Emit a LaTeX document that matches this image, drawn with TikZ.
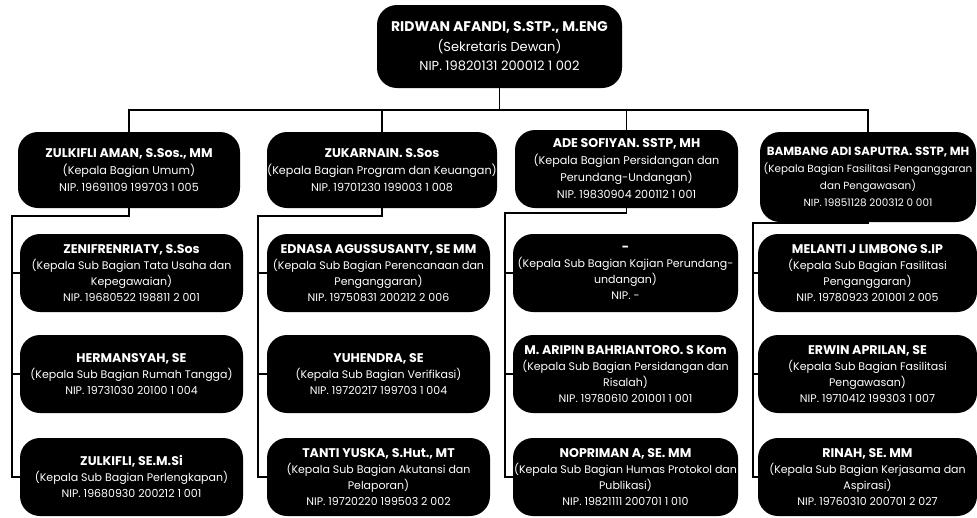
\documentclass[tikz,border=0pt]{standalone}
\usepackage{fontspec}
\setmainfont{Poppins}
\usetikzlibrary{positioning}

\newcommand\nama[2][12.6]{{\fontsize{#1}{16}\selectfont\bfseries #2}}

\tikzset{
  pegawai/.style={fill=black, text=white, rounded corners=20pt, align=center,
    inner sep=0pt, font=\fontsize{11}{16}\selectfont},
  topbox/.style={pegawai, minimum width=245pt, minimum height=83pt,
    font=\fontsize{13}{19.5}\selectfont},
  headbox/.style={pegawai, font=\fontsize{11.2}{17}\selectfont},
  subbox/.style={pegawai, minimum width=223pt, minimum height=78pt},
  garis/.style={draw=black, line width=1.2pt}
}

\begin{document}
\begin{tikzpicture}[x=1pt,y=-1pt]
\useasboundingbox (0,0) rectangle (977,517);

% sekretaris
\node[topbox] (sekwan) at (499.5,46.5) {\nama[14]{RIDWAN AFANDI, S.STP., M.ENG}\\(Sekretaris Dewan)\\NIP. 19820131 200012 1 002};

% kepala bagian
\node[headbox, minimum width=222pt, minimum height=76pt] (umum) at (129,170) {\nama{ZULKIFLI AMAN, S.Sos., MM}\\(Kepala Bagian Umum)\\NIP. 19691109 199703 1 005};
\node[headbox, minimum width=230pt, minimum height=76pt] (program) at (382,170) {\nama{ZUKARNAIN. S.Sos}\\(Kepala Bagian Program dan Keuangan)\\NIP. 19701230 199003 1 008};
\node[headbox, minimum width=223pt, minimum height=78pt] (sidang) at (626.5,169) {\nama{ADE SOFIYAN. SSTP, MH}\\(Kepala Bagian Persidangan dan\\Perundang-Undangan)\\NIP. 19830904 200112 1 001};
\node[headbox, minimum width=216pt, minimum height=90pt, font=\fontsize{10.4}{17}\selectfont] (fasilitasi) at (868,177) {\nama[11.8]{BAMBANG ADI SAPUTRA. SSTP, MH}\\(Kepala Bagian Fasilitasi Penganggaran\\dan Pengawasan)\\NIP. 19851128 200312 0 001};

% sub bagian umum
\node[subbox] (umumA) at (131.5,273) {\nama{ZENIFRENRIATY, S.Sos}\\(Kepala Sub Bagian Tata Usaha dan\\Kepegawaian)\\NIP. 19680522 198811 2 001};
\node[subbox] (umumB) at (131.5,374) {\nama{HERMANSYAH, SE}\\(Kepala Sub Bagian Rumah Tangga)\\NIP. 19731030 20100 1 004};
\node[subbox] (umumC) at (131.5,477) {\nama{ZULKIFLI, SE.M.Si}\\(Kepala Sub Bagian Perlengkapan)\\NIP. 19680930 200212 1 001};

% sub bagian program
\node[subbox] (programA) at (378.5,273) {\nama{EDNASA AGUSSUSANTY, SE MM}\\(Kepala Sub Bagian Perencanaan dan\\Penganggaran)\\NIP. 19750831 200212 2 006};
\node[subbox] (programB) at (378.5,374) {\nama{YUHENDRA, SE}\\(Kepala Sub Bagian Verifikasi)\\NIP. 19720217 199703 1 004};
\node[subbox] (programC) at (378.5,477) {\nama{TANTI YUSKA, S.Hut., MT}\\(Kepala Sub Bagian Akutansi dan\\Pelaporan)\\NIP. 19720220 199503 2 002};

% sub bagian persidangan
\node[subbox, minimum width=225pt] (sidangA) at (625.5,273) {\nama{-}\\(Kepala Sub Bagian Kajian Perundang-\\undangan)\\NIP. -};
\node[subbox, minimum width=225pt] (sidangB) at (625.5,374) {\nama{M. ARIPIN BAHRIANTORO. S Kom}\\(Kepala Sub Bagian Persidangan dan\\Risalah)\\NIP. 19780610 201001 1 001};
\node[subbox, minimum width=225pt] (sidangC) at (625.5,477) {\nama{NOPRIMAN A, SE. MM}\\(Kepala Sub Bagian Humas Protokol dan\\Publikasi)\\NIP. 19821111 200701 1 010};

% sub bagian fasilitasi
\node[subbox, minimum width=219pt] (fasilitasiA) at (867.5,273) {\nama{MELANTI J LIMBONG S.IP}\\(Kepala Sub Bagian Fasilitasi\\Penganggaran)\\NIP. 19780923 201001 2 005};
\node[subbox, minimum width=219pt] (fasilitasiB) at (867.5,374) {\nama{ERWIN APRILAN, SE}\\(Kepala Sub Bagian Fasilitasi\\Pengawasan)\\NIP. 19710412 199303 1 007};
\node[subbox, minimum width=219pt] (fasilitasiC) at (867.5,477) {\nama{RINAH, SE. MM}\\(Kepala Sub Bagian Kerjasama dan\\Aspirasi)\\NIP. 19760310 200701 2 027};

% garis
\coordinate (bus) at (499.5,110);
\draw[garis] (sekwan.south) -- (bus);
\draw[garis] (umum.north) |- (bus) -| (fasilitasi.north);
\draw[garis] (program.north) -- (program.north |- bus);
\draw[garis] (sidang.north) -- (sidang.north |- bus);

\coordinate (railumum) at (12,216);
\coordinate (railprogram) at (258,216);
\coordinate (railsidang) at (505,213);
\coordinate (railfasilitasi) at (753,223);
\foreach \bag in {umum,program,sidang,fasilitasi} {
  \draw[garis] (\bag.south) |- (rail\bag) |- (\bag C.west);
  \draw[garis] (rail\bag |- \bag A.west) -- (\bag A.west);
  \draw[garis] (rail\bag |- \bag B.west) -- (\bag B.west);
}
\end{tikzpicture}
\end{document}
